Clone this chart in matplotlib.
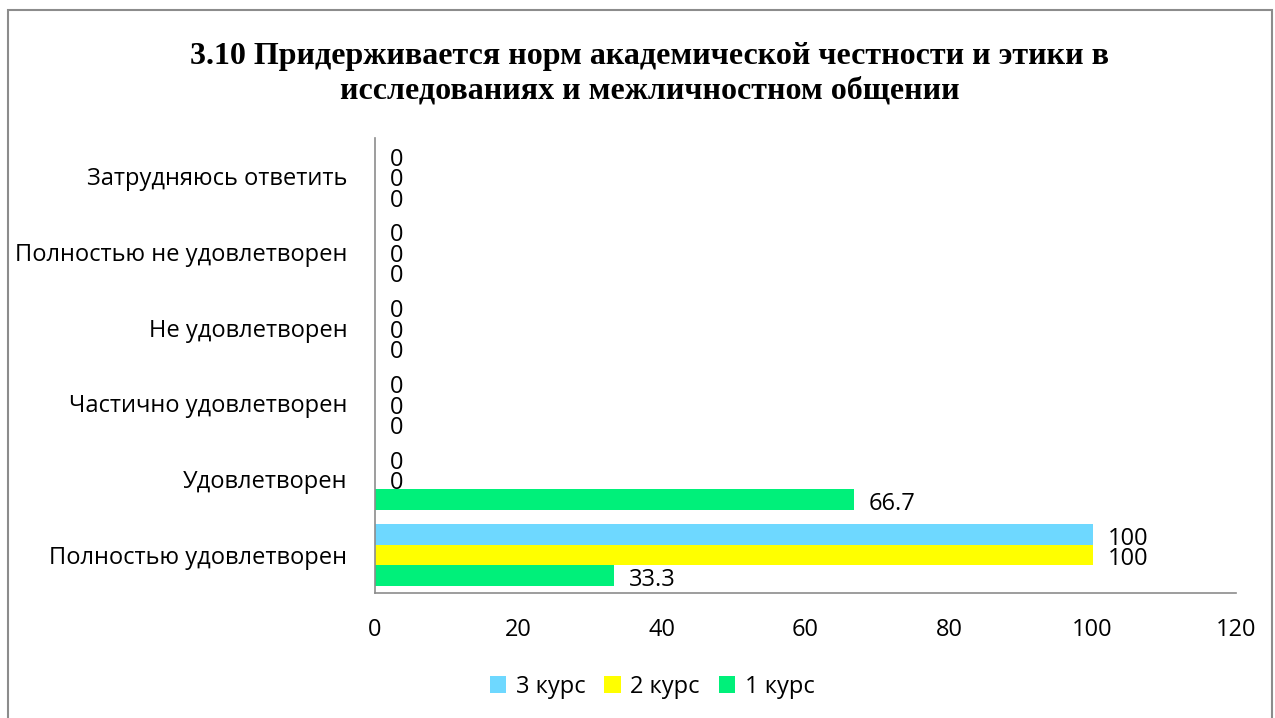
import matplotlib.pyplot as plt
import numpy as np

categories = [
    "Полностью удовлетворен",
    "Удовлетворен",
    "Частично удовлетворен",
    "Не удовлетворен",
    "Полностью не удовлетворен",
    "Затрудняюсь ответить",
]
series_names = ["1 курс", "2 курс", "3 курс"]
kurs1 = [33.3, 66.7, 0, 0, 0, 0]
kurs2 = [100, 0, 0, 0, 0, 0]
kurs3 = [100, 0, 0, 0, 0, 0]
colors = ["#00F07A", "#FFFF00", "#6ED8FF"]

plt.rcParams["font.family"] = ["Open Sans", "DejaVu Sans"]
fs = 17

fig = plt.figure(figsize=(12.75, 7.18), dpi=100)
ax = fig.add_axes([375 / 1275, 1 - 593 / 718, (1236 - 375) / 1275, (593 - 138) / 718])

y = np.arange(len(categories))
h = 0.27
bars = []
for i, (vals, name, c) in enumerate(zip([kurs1, kurs2, kurs3], series_names, colors)):
    b = ax.barh(y + (i - 1) * h, vals, height=h, color=c, label=name)
    bars.append(b)
    for yy, v in zip(y + (i - 1) * h, vals):
        ax.annotate(
            f"{v:g}",
            (v, yy),
            xytext=(11, -3),
            textcoords="offset points",
            ha="left",
            va="center",
            fontsize=fs,
        )

ax.set_xlim(0, 120)
ax.set_ylim(-0.5, len(categories) - 0.5)
ax.set_xticks(range(0, 121, 20))
ax.set_yticks(y)
ax.set_yticklabels(categories)
ax.tick_params(axis="both", length=0, labelsize=fs)
ax.tick_params(axis="x", pad=18)
ax.tick_params(axis="y", pad=20)
for s in ["top", "right"]:
    ax.spines[s].set_visible(False)
for s in ["left", "bottom"]:
    ax.spines[s].set_color("#8C8C8C")
    ax.spines[s].set_linewidth(1.2)

fig.text(
    650 / 1275,
    1 - 74 / 718,
    "3.10 Придерживается норм академической честности и этики в\n"
    "исследованиях и межличностном общении",
    ha="center",
    va="center",
    fontsize=23,
    fontweight="bold",
    family="Liberation Serif",
    linespacing=1.25,
)

handles = [bars[2], bars[1], bars[0]]
fig.legend(
    handles,
    [series_names[2], series_names[1], series_names[0]],
    loc="center",
    bbox_to_anchor=(652 / 1275, 1 - 687 / 718),
    ncol=3,
    frameon=False,
    fontsize=fs,
    handlelength=0.7,
    handleheight=0.7,
    handletextpad=0.4,
    columnspacing=0.8,
)

frame = plt.Rectangle(
    (8 / 1275, -0.05),
    (1272 - 8) / 1275,
    1.05 - 10 / 718,
    transform=fig.transFigure,
    fill=False,
    edgecolor="#8C8C8C",
    linewidth=1.5,
)
fig.patches.append(frame)

fig.savefig("out.png", dpi=100)
